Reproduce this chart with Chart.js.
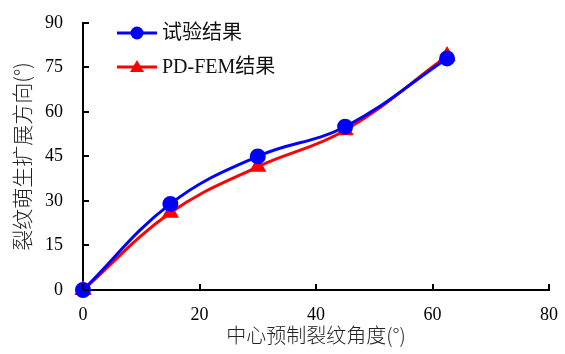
<!DOCTYPE html>
<html lang="zh">
<head>
    <meta charset="UTF-8">
    <title>裂纹萌生扩展方向</title>
    <script src="https://cdn.jsdelivr.net/npm/chart.js"></script>
    <style>
        body { margin: 0; background: #fff; }
        .chart-box { width: 565px; height: 354px; }
    </style>
</head>
<body>
    <div class="chart-box">
        <canvas id="crackChart" width="565" height="354"></canvas>
    </div>

    <script>
        // data
        const angles = [0, 15, 30, 45, 62.5];
        const testResult = [0, 29, 45, 55, 78];
        const pdfemResult = [0, 26, 41.5, 53.8, 78.8];
        const seriesNames = ['试验结果', 'PD-FEM结果'];
        const xTicks = [0, 20, 40, 60, 80];
        const yTicks = [0, 15, 30, 45, 60, 75, 90];

        const numFont = '"Liberation Serif", "Noto Sans CJK SC", serif';
        const cjkFont = '"Noto Sans CJK SC", "Liberation Serif", serif';

        // inward tick marks plus the in-plot legend
        const decorations = {
            id: 'decorations',
            afterDraw(chart) {
                const ctx = chart.ctx;
                const xs = chart.scales.x, ys = chart.scales.y;
                const area = chart.chartArea;
                ctx.save();
                ctx.strokeStyle = '#000';
                ctx.lineWidth = 2;
                xTicks.forEach(v => {
                    const px = Math.round(xs.getPixelForValue(v));
                    ctx.beginPath();
                    ctx.moveTo(px, area.bottom);
                    ctx.lineTo(px, area.bottom - 6);
                    ctx.stroke();
                });
                yTicks.forEach(v => {
                    const py = Math.round(ys.getPixelForValue(v));
                    ctx.beginPath();
                    ctx.moveTo(area.left, py);
                    ctx.lineTo(area.left + 6, py);
                    ctx.stroke();
                });

                // legend
                const items = chart.data.datasets;
                items.forEach((ds, i) => {
                    const y = 33 + i * 34;
                    ctx.strokeStyle = ds.borderColor;
                    ctx.lineWidth = 3;
                    ctx.beginPath();
                    ctx.moveTo(117, y);
                    ctx.lineTo(157, y);
                    ctx.stroke();
                    ctx.fillStyle = ds.borderColor;
                    ctx.beginPath();
                    if (ds.pointStyle === 'triangle') {
                        ctx.moveTo(137, y - 7);
                        ctx.lineTo(144, y + 5);
                        ctx.lineTo(130, y + 5);
                        ctx.closePath();
                    } else {
                        ctx.arc(137, y, 6.5, 0, Math.PI * 2);
                    }
                    ctx.fill();
                    ctx.fillStyle = '#111';
                    ctx.font = '20px ' + numFont;
                    ctx.textBaseline = 'middle';
                    ctx.textAlign = 'left';
                    ctx.fillText(ds.label, 162, y + 1);
                });
                ctx.restore();
            }
        };

        const ctx = document.getElementById('crackChart').getContext('2d');
        const chart = new Chart(ctx, {
            type: 'line',
            data: {
                datasets: [
                    {
                        label: seriesNames[0],
                        data: angles.map((a, i) => ({ x: a, y: testResult[i] })),
                        borderColor: '#0000ff',
                        backgroundColor: '#0000ff',
                        borderWidth: 3,
                        pointStyle: 'circle',
                        pointRadius: 6.5,
                        tension: 0.4
                    },
                    {
                        label: seriesNames[1],
                        data: angles.map((a, i) => ({ x: a, y: pdfemResult[i] })),
                        borderColor: '#ff0000',
                        backgroundColor: '#ff0000',
                        borderWidth: 3,
                        pointStyle: 'triangle',
                        pointRadius: 7,
                        tension: 0.4
                    }
                ]
            },
            options: {
                responsive: false,
                animation: false,
                clip: false,
                layout: { padding: { left: 0, right: 16, top: 12, bottom: 0 } },
                plugins: {
                    legend: { display: false },
                    tooltip: { enabled: false }
                },
                scales: {
                    x: {
                        type: 'linear',
                        min: 0,
                        max: 80,
                        afterBuildTicks: s => { s.ticks = xTicks.map(v => ({ value: v })); },
                        afterFit: s => { s.height = 64; },
                        grid: { display: false },
                        border: { display: true, color: '#000', width: 2 },
                        ticks: {
                            color: '#000',
                            padding: 6,
                            font: { family: numFont, size: 18 }
                        },
                        title: {
                            display: true,
                            text: '中心预制裂纹角度(°)',
                            color: '#222',
                            padding: { top: 0, bottom: 7 },
                            font: { family: cjkFont, size: 20, weight: 300 }
                        }
                    },
                    y: {
                        type: 'linear',
                        min: 0,
                        max: 90,
                        afterBuildTicks: s => { s.ticks = yTicks.map(v => ({ value: v })); },
                        afterFit: s => { s.width = 83; },
                        grid: { display: false },
                        border: { display: true, color: '#000', width: 2 },
                        ticks: {
                            color: '#000',
                            padding: 12,
                            font: { family: numFont, size: 18 }
                        },
                        title: {
                            display: true,
                            text: '裂纹萌生扩展方向(°)',
                            color: '#222',
                            padding: { top: 9, bottom: 0 },
                            font: { family: cjkFont, size: 21, weight: 300 }
                        }
                    }
                }
            },
            plugins: [decorations]
        });
    </script>
</body>
</html>
